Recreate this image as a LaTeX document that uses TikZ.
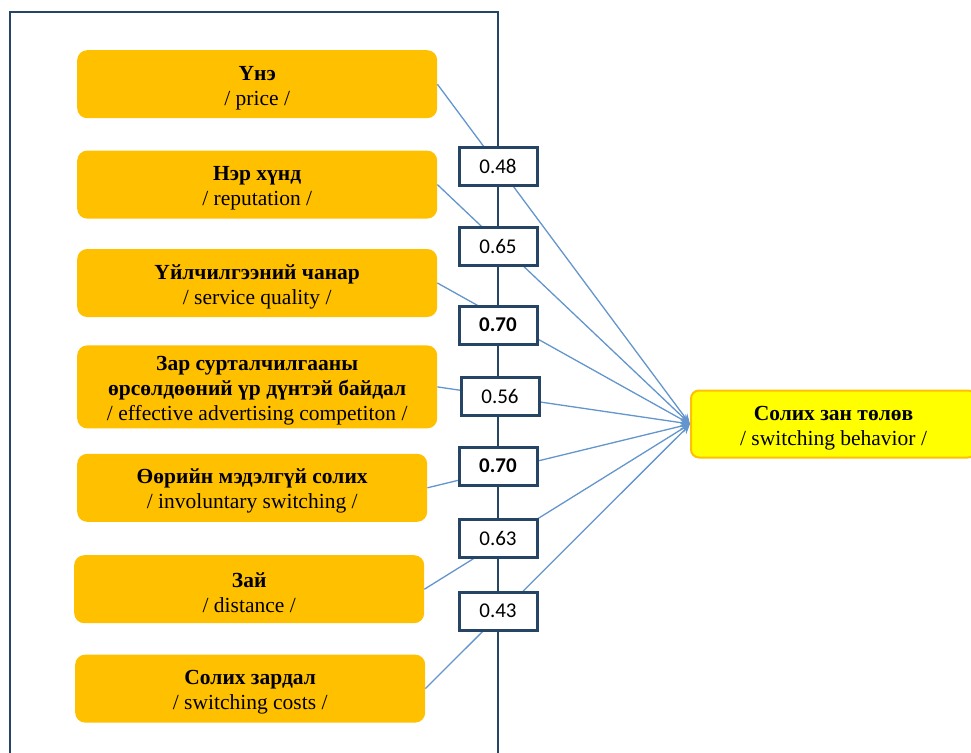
\documentclass[tikz,border=0pt]{standalone}
\usepackage{fontspec}
\setmainfont{Liberation Serif}
\newfontfamily\numfont{Carlito}
\usetikzlibrary{arrows.meta,positioning}
\definecolor{figframe}{RGB}{38,68,100}
\definecolor{figlink}{RGB}{100,150,205}
\definecolor{figorange}{RGB}{255,192,0}
\definecolor{figyellow}{RGB}{255,255,0}
% head line of a box, set a little low as in the source
\newcommand{\headline}[1]{\rule{0pt}{22pt}\textbf{#1}}
\tikzset{
  factor/.style={
    rectangle, rounded corners=10pt, fill=figorange,
    minimum width=360pt, minimum height=68pt,
    align=center, inner sep=2pt,
    font=\fontsize{21.5}{25}\selectfont
  },
  outcome/.style={
    rectangle, rounded corners=8pt, draw=figorange, fill=figyellow,
    line width=2pt, minimum width=285pt, minimum height=67pt,
    align=center, font=\fontsize{21.5}{25}\selectfont
  },
  weight/.style={
    rectangle, draw=figframe, fill=white, line width=3pt,
    minimum width=78pt, minimum height=38pt, inner sep=0pt,
    font=\numfont\fontsize{21}{24}\selectfont
  },
  link/.style={-{Stealth[length=10pt,width=8pt]}, line width=1.3pt, draw=figlink, fill=figlink},
  frame/.style={draw=figframe, line width=2.8pt}
}

\begin{document}
\begin{tikzpicture}[x=1pt, y=-1pt]
  \useasboundingbox (0,0) rectangle (971,752);

  % Factors in one column
  \node[factor, anchor=north west] (price) at (77,50)
    {\headline{Үнэ}\\/ price /};
  \node[factor, below=32pt of price.south west, anchor=north west] (rep)
    {\headline{Нэр хүнд}\\/ reputation /};
  \node[factor, below=30pt of rep.south west, anchor=north west] (quality)
    {\headline{Үйлчилгээний чанар}\\/ service quality /};
  \node[factor, minimum height=83pt, below=28pt of quality.south west, anchor=north west] (advert)
    {\headline{Зар сурталчилгааны}\\\textbf{өрсөлдөөний үр дүнтэй байдал}\\/ effective advertising competiton /};
  \node[factor, minimum width=350pt, below=25pt of advert.south west, anchor=north west] (invol)
    {\headline{Өөрийн мэдэлгүй солих}\\/ involuntary switching /};
  \node[factor, minimum width=350pt, below=33pt of invol.south west, anchor=north west, xshift=-3pt] (dist)
    {\headline{Зай}\\/ distance /};
  \node[factor, minimum width=350pt, below=31pt of dist.south west, anchor=north west, xshift=1pt] (costs)
    {\headline{Солих зардал}\\/ switching costs /};

  % Outcome
  \node[outcome, anchor=west] (behav) at (690,424)
    {\headline{Солих зан төлөв}\\/ switching behavior /};

  % Paths to the outcome
  \foreach \f in {price,rep,quality,advert,invol,dist,costs}
    \draw[link] (\f.east) -- (behav.west);

  % Frame; its right side carries the weights
  \draw[frame] (10,12) rectangle (498,760);

  \node[weight] (wprice) at (498,166) {0.48};
  \node[weight] (wrep) at (498,246) {0.65};
  \node[weight] (wquality) at (498,325) {\textbf{0.70}};
  \node[weight] (wadvert) at (500,396) {0.56};
  \node[weight] (winvol) at (498,466) {\textbf{0.70}};
  \node[weight] (wdist) at (498,538) {0.63};
  \node[weight] (wcosts) at (498,611) {0.43};

\end{tikzpicture}
\end{document}
